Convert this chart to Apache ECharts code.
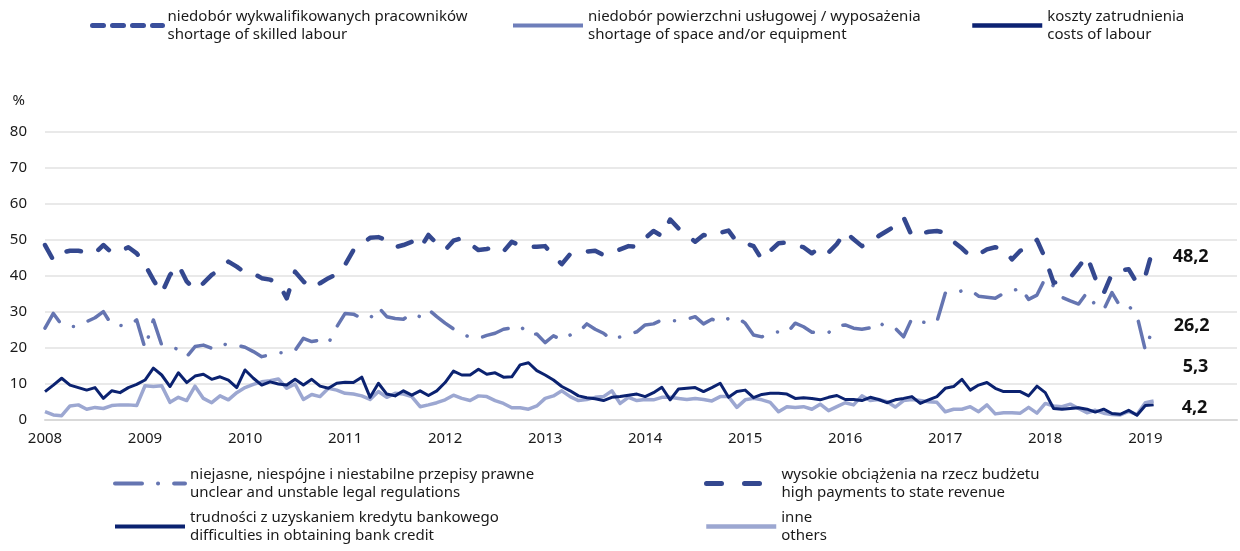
<!DOCTYPE html>
<html>
<head>
<meta charset="utf-8">
<script src="https://cdn.jsdelivr.net/npm/echarts@6/dist/echarts.min.js"></script>
<style>
  html, body { margin: 0; padding: 0; background: #ffffff; }
  #chart { width: 1240px; height: 551px; }
</style>
</head>
<body>
<div id="chart"></div>
<script>
// Monthly categories, Jan 2008 – Dec 2019 (data run to Feb 2019)
const years = [2008, 2009, 2010, 2011, 2012, 2013, 2014, 2015, 2016, 2017, 2018, 2019];
const months = years.flatMap(y => Array.from({ length: 12 }, (_, m) => y + '-' + String(m + 1).padStart(2, '0')));

// Series values, % of respondents
const highPayments = [
  48.6, 44.4, 46.5, 47.0, 47.0, 46.6, 46.3, 48.6, 46.5, 46.8, 48.0, 46.3,
  43.1, 38.9, 35.2, 40.3, 43.1, 38.5, 36.1, 38.0, 40.3, 41.9, 44.0, 42.6,
  40.9, 40.7, 39.4, 39.0, 38.0, 33.8, 41.2, 38.5, 36.6, 38.0, 39.4, 40.5,
  43.1, 47.2, 48.9, 50.6, 50.8, 50.0, 48.0, 48.6, 49.5, 47.7, 51.4, 49.0,
  47.2, 49.8, 50.5, 48.9, 47.2, 47.5, 48.1, 46.8, 49.5, 48.5, 48.1, 48.1,
  48.3, 45.5, 43.3, 46.1, 46.5, 46.8, 47.0, 45.8, 46.5, 47.4, 48.3, 48.1,
  50.5, 52.5, 51.1, 55.7, 53.2, 51.4, 49.5, 51.4, 50.9, 52.0, 52.6, 49.5,
  49.1, 48.3, 44.6, 47.0, 49.1, 49.3, 48.5, 48.0, 46.3, 48.0, 46.5, 48.9,
  52.3, 50.2, 48.3, 49.3, 51.1, 52.5, 53.9, 56.3, 51.1, 51.7, 52.3, 52.5,
  52.0, 49.5, 47.7, 45.5, 46.0, 47.4, 48.0, 47.5, 44.6, 47.0, 48.1, 50.0,
  44.9, 38.1, 38.7, 39.6, 42.5, 45.6, 39.4, 35.2, 40.6, 41.5, 41.9, 38.0,
  40.0, 48.2
];
const unclearRegulations = [
  25.5, 29.6, 26.4, 26.0, 26.0, 27.3, 28.4, 30.1, 26.4, 26.3, 26.1, 27.8,
  19.9, 27.8, 20.8, 20.4, 19.6, 17.6, 20.4, 20.8, 19.9, 21.3, 20.8, 20.8,
  20.2, 19.0, 17.6, 18.1, 18.7, 18.7, 19.3, 22.7, 21.8, 22.2, 21.3, 25.9,
  29.6, 29.4, 28.2, 28.2, 31.3, 28.7, 28.2, 28.0, 29.6, 28.7, 30.7, 28.7,
  26.9, 25.3, 23.9, 23.0, 22.7, 23.5, 24.1, 25.2, 25.6, 26.2, 23.6, 23.9,
  21.5, 23.4, 22.2, 23.6, 24.3, 26.7, 25.2, 24.1, 22.2, 23.1, 23.8, 24.5,
  26.4, 26.7, 27.8, 27.6, 27.6, 28.0, 28.7, 26.7, 28.0, 27.1, 28.2, 28.5,
  26.9, 23.6, 23.1, 24.3, 24.5, 24.1, 26.9, 25.9, 24.4, 24.1, 24.3, 26.2,
  26.4, 25.5, 25.2, 25.6, 27.3, 25.5, 25.5, 23.1, 28.2, 27.3, 26.9, 27.3,
  35.2, 35.0, 35.9, 36.1, 34.4, 34.1, 33.8, 35.2, 35.6, 36.9, 33.5, 34.7,
  39.4, 37.2, 34.1, 33.1, 32.2, 35.4, 31.9, 30.6, 35.4, 31.5, 31.7, 29.0,
  19.4, 26.2
];
const bankCredit = [
  7.9, 9.7, 11.6, 9.7, 9.0, 8.3, 9.0, 6.0, 8.1, 7.6, 9.0, 9.9,
  11.1, 14.4, 12.5, 9.3, 13.1, 10.4, 12.2, 12.7, 11.3, 12.0, 11.1, 9.0,
  13.9, 11.6, 9.7, 10.6, 10.0, 9.7, 11.3, 9.7, 11.3, 9.4, 8.8, 10.2,
  10.5, 10.4, 11.9, 6.3, 10.2, 7.2, 6.7, 8.1, 6.9, 8.1, 6.8, 8.1,
  10.4, 13.6, 12.5, 12.5, 14.1, 12.7, 13.1, 11.9, 12.0, 15.3, 15.9, 13.7,
  12.5, 11.1, 9.3, 8.1, 6.7, 6.2, 5.9, 5.4, 6.3, 6.5, 6.9, 7.2,
  6.5, 7.6, 9.1, 5.6, 8.6, 8.8, 9.0, 7.9, 9.0, 10.2, 6.3, 7.9,
  8.3, 6.2, 7.1, 7.4, 7.4, 7.2, 6.0, 6.2, 6.0, 5.6, 6.3, 6.8,
  5.7, 5.7, 5.4, 6.3, 5.7, 4.8, 5.6, 6.0, 6.5, 4.6, 5.6, 6.5,
  8.8, 9.3, 11.3, 8.3, 9.7, 10.4, 8.8, 7.9, 7.9, 7.9, 6.7, 9.4,
  7.6, 3.2, 3.0, 3.2, 3.4, 3.0, 2.2, 3.0, 1.8, 1.6, 2.7, 1.3,
  4.0, 4.2
];
const others = [
  2.3, 1.4, 1.2, 3.9, 4.2, 3.0, 3.5, 3.2, 4.0, 4.2, 4.2, 4.0,
  9.5, 9.3, 9.5, 4.9, 6.3, 5.4, 9.4, 6.0, 4.8, 6.7, 5.6, 7.6,
  9.0, 9.9, 10.6, 10.9, 11.4, 8.8, 10.0, 5.7, 7.1, 6.5, 8.8, 8.3,
  7.4, 7.2, 6.7, 5.7, 7.9, 6.3, 7.4, 7.2, 6.5, 3.7, 4.2, 4.8,
  5.6, 6.9, 6.0, 5.4, 6.7, 6.5, 5.4, 4.6, 3.4, 3.4, 3.0, 3.9,
  6.0, 6.7, 8.1, 6.5, 5.4, 5.7, 6.3, 6.5, 8.1, 4.6, 6.3, 5.4,
  5.7, 5.6, 6.3, 6.3, 6.0, 5.7, 6.0, 5.7, 5.3, 6.5, 6.5, 3.5,
  5.6, 6.0, 5.6, 4.9, 2.3, 3.7, 3.5, 3.7, 3.0, 4.4, 2.6, 3.7,
  4.8, 4.2, 6.7, 5.4, 5.7, 5.1, 3.6, 5.4, 5.7, 5.4, 5.1, 4.9,
  2.3, 3.0, 3.0, 3.7, 2.3, 4.2, 1.7, 2.0, 2.0, 1.9, 3.5, 1.9,
  4.6, 3.9, 3.7, 4.4, 3.2, 2.0, 2.7, 1.9, 1.5, 1.4, 2.4, 1.5,
  4.8, 5.3
];
// Barriers listed in the shared legend but without a line in this panel
const skilledLabour = [];
const spaceEquipment = [];
const labourCosts = [];

const N_SKILLED = 'niedobór wykwalifikowanych pracowników';
const N_SPACE = 'niedobór powierzchni usługowej / wyposażenia';
const N_COSTS = 'koszty zatrudnienia';
const N_UNCLEAR = 'niejasne, niespójne i niestabilne przepisy prawne';
const N_PAYMENTS = 'wysokie obciążenia na rzecz budżetu';
const N_CREDIT = 'trudności z uzyskaniem kredytu bankowego';
const N_OTHERS = 'inne';

const englishNames = {
  [N_SKILLED]: 'shortage of skilled labour',
  [N_SPACE]: 'shortage of space and/or equipment',
  [N_COSTS]: 'costs of labour',
  [N_UNCLEAR]: 'unclear and unstable legal regulations',
  [N_PAYMENTS]: 'high payments to state revenue',
  [N_CREDIT]: 'difficulties in obtaining bank credit',
  [N_OTHERS]: 'others'
};

const FONT = '"Noto Sans", "Open Sans", sans-serif';
const TEXT = '#1a1a1a';

const C_PAYMENTS = '#34488f';
const C_UNCLEAR = '#6575b1';
const C_CREDIT = '#0b2270';
const C_OTHERS = '#9ca7d1';
const C_SKILLED = '#3a4f9c';
const C_SPACE = '#6e7eba';
const C_COSTS = '#0c2272';

// One legend block per entry: line icon level with the first (Polish) line
function legendEntry(name, left, iconY, lineH, lineStyle) {
  return {
    data: [name],
    left: left,
    top: iconY - 1.5 * lineH + 10.5,
    orient: 'horizontal',
    padding: 0,
    itemGap: 0,
    itemWidth: 70,
    itemHeight: 14,
    selectedMode: false,
    itemStyle: { opacity: 0 },
    lineStyle: lineStyle,
    formatter: n => n + '\n' + englishNames[n],
    textStyle: {
      fontFamily: FONT,
      fontSize: 15,
      color: TEXT,
      lineHeight: lineH,
      padding: [lineH, 0, 0, 0]
    }
  };
}

const valueText = p => Number(p.value).toFixed(1).replace('.', ',');
const endLabelBase = {
  show: true,
  formatter: valueText,
  fontFamily: FONT,
  fontSize: 18,
  fontWeight: 'bold',
  color: '#111111'
};

const chart = echarts.init(document.getElementById('chart'), null, { renderer: 'canvas' });

chart.setOption({
  animation: false,
  backgroundColor: '#ffffff',
  textStyle: { fontFamily: FONT },
  grid: { left: 45, right: 3, top: 132, bottom: 131 },
  legend: [
    legendEntry(N_SKILLED, 90, 15, 18, { width: 5 }),
    legendEntry(N_SPACE, 511, 15, 18, { width: 4 }),
    legendEntry(N_COSTS, 970, 15, 18, { width: 4.5 }),
    legendEntry(N_UNCLEAR, 113, 473, 18.5, { width: 4 }),
    legendEntry(N_CREDIT, 113, 516, 18.5, { width: 4 }),
    legendEntry(N_PAYMENTS, 704, 473, 18.5, { width: 5, type: [15, 23] }),
    legendEntry(N_OTHERS, 704, 516, 18.5, { width: 4.5 })
  ],
  xAxis: {
    type: 'category',
    data: months,
    boundaryGap: false,
    axisLine: { lineStyle: { color: '#d9d9d9', width: 2 } },
    axisTick: { show: false },
    axisLabel: {
      interval: i => i % 12 === 0,
      formatter: v => v.slice(0, 4),
      fontFamily: FONT,
      fontSize: 15,
      color: TEXT,
      margin: 11
    },
    splitLine: { show: false }
  },
  yAxis: {
    type: 'value',
    min: 0,
    max: 80,
    interval: 10,
    name: '%',
    nameLocation: 'end',
    nameGap: 24,
    nameTextStyle: { fontFamily: FONT, fontSize: 15, color: TEXT, align: 'right', padding: [0, 20, 0, 0] },
    axisLine: { show: false },
    axisTick: { show: false },
    axisLabel: { fontFamily: FONT, fontSize: 15, color: TEXT, margin: 18 },
    splitLine: { lineStyle: { color: '#e2e2e2', width: 1.5 } }
  },
  series: [
    {
      name: N_SKILLED, type: 'line', data: skilledLabour, symbol: 'none',
      color: C_SKILLED,
      lineStyle: { color: C_SKILLED, width: 5, type: [11, 9], cap: 'round' }
    },
    {
      name: N_SPACE, type: 'line', data: spaceEquipment, symbol: 'none',
      color: C_SPACE,
      lineStyle: { color: C_SPACE, width: 4, type: 'solid' }
    },
    {
      name: N_COSTS, type: 'line', data: labourCosts, symbol: 'none',
      color: C_COSTS,
      lineStyle: { color: C_COSTS, width: 4.5, type: 'solid' }
    },
    {
      name: N_UNCLEAR, type: 'line', data: unclearRegulations, symbol: 'none',
      color: C_UNCLEAR,
      lineStyle: { color: C_UNCLEAR, width: 3.5, type: [27, 16, 0.1, 16], cap: 'round', join: 'round' },
      endLabel: Object.assign({}, endLabelBase, { distance: 20 })
    },
    {
      name: N_PAYMENTS, type: 'line', data: highPayments, symbol: 'none',
      color: C_PAYMENTS,
      lineStyle: { color: C_PAYMENTS, width: 4.5, type: [14.5, 19], cap: 'round', join: 'round' },
      endLabel: Object.assign({}, endLabelBase, { distance: 19, offset: [0, 10] })
    },
    {
      name: N_OTHERS, type: 'line', data: others, symbol: 'none',
      color: C_OTHERS,
      lineStyle: { color: C_OTHERS, width: 3.5, type: 'solid', join: 'round' },
      endLabel: Object.assign({}, endLabelBase, { distance: 29, offset: [0, -34] })
    },
    {
      name: N_CREDIT, type: 'line', data: bankCredit, symbol: 'none',
      color: C_CREDIT,
      lineStyle: { color: C_CREDIT, width: 3, type: 'solid', join: 'round' },
      endLabel: Object.assign({}, endLabelBase, { distance: 28, offset: [0, 3] })
    }
  ]
});
</script>
</body>
</html>
